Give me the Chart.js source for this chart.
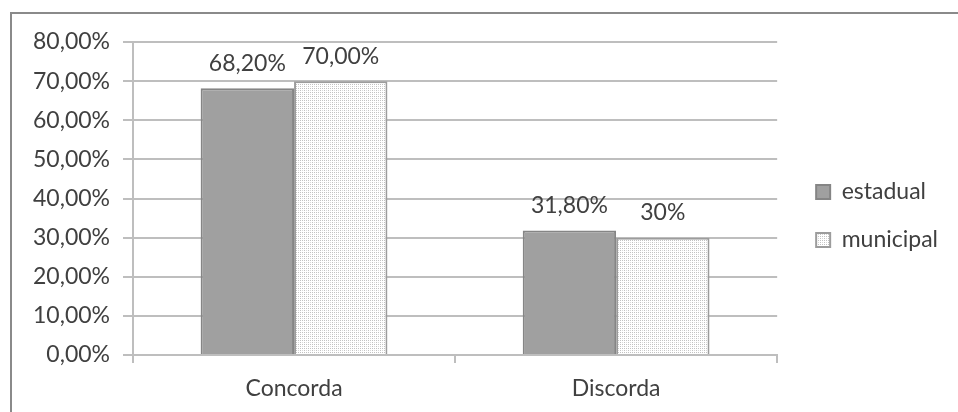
<!DOCTYPE html>
<html>
<head>
<meta charset="utf-8">
<title>Concorda / Discorda</title>
<script src="https://cdn.jsdelivr.net/npm/chart.js@4.4.1/dist/chart.umd.min.js"></script>
<style>
  html, body { margin: 0; padding: 0; background: #fff; overflow: hidden; }
  #frame {
    position: absolute; left: 10px; top: 12px; width: 1000px; height: 500px;
    border-left: 2px solid #8a8a8a; border-top: 2px solid #8a8a8a;
  }
  #chart { position: absolute; left: 0; top: 0; }
</style>
</head>
<body>
<div id="frame"></div>
<canvas id="chart" width="958" height="412"></canvas>
<script>
// Data
const categories = ['Concorda', 'Discorda'];
const estadualValues = [68.2, 31.8];
const municipalValues = [70, 30];
const estadualLabels = ['68,20%', '31,80%'];
const municipalLabels = ['70,00%', '30%'];
const yTickLabels = ['0,00%', '10,00%', '20,00%', '30,00%', '40,00%', '50,00%', '60,00%', '70,00%', '80,00%'];

const textColor = '#404040';
const gridColor = '#bebebe';
const fontFamily = 'Lato, "Open Sans", sans-serif';

// Dotted fill for the municipal bars
function dottedPattern() {
    const tile = document.createElement('canvas');
    tile.width = 4;
    tile.height = 4;
    const t = tile.getContext('2d');
    t.fillStyle = '#ffffff';
    t.fillRect(0, 0, 4, 4);
    t.fillStyle = '#c2c2c2';
    t.fillRect(0, 0, 1, 1);
    t.fillRect(0, 2, 1, 1);
    t.fillRect(2, 0, 1, 1);
    t.fillStyle = '#dadada';
    t.fillRect(2, 2, 1, 1);
    return t.createPattern(tile, 'repeat');
}

// Value text above each bar
const valueLabels = {
    id: 'valueLabels',
    afterDatasetsDraw(chart) {
        const ctx = chart.ctx;
        ctx.save();
        ctx.font = '23px ' + fontFamily;
        ctx.fillStyle = textColor;
        ctx.textAlign = 'center';
        ctx.textBaseline = 'middle';
        chart.data.datasets.forEach((ds, i) => {
            chart.getDatasetMeta(i).data.forEach((bar, j) => {
                ctx.fillText(ds.valueLabels[j], bar.x, bar.y - 25);
            });
        });
        ctx.restore();
    }
};

// Pull the legend's lower edge up so its items sit a bit higher
const legendLift = {
    id: 'legendLift',
    afterLayout(chart) {
        if (chart.legend) {
            chart.legend.bottom -= 22;
            chart.legend.height -= 22;
        }
    }
};

function drawChart() {
    const ctx = document.getElementById('chart').getContext('2d');
    new Chart(ctx, {
        type: 'bar',
        data: {
            labels: categories,
            datasets: [{
                label: 'estadual',
                data: estadualValues,
                valueLabels: estadualLabels,
                backgroundColor: '#a0a0a0',
                borderColor: '#858585',
                borderWidth: 2,
                categoryPercentage: 0.58,
                barPercentage: 1.0
            }, {
                label: 'municipal',
                data: municipalValues,
                valueLabels: municipalLabels,
                backgroundColor: dottedPattern(),
                borderColor: '#9c9c9c',
                borderWidth: 2,
                categoryPercentage: 0.58,
                barPercentage: 1.0
            }]
        },
        options: {
            responsive: false,
            animation: false,
            layout: {
                padding: { top: 42, left: 0, right: 10, bottom: 0 }
            },
            plugins: {
                tooltip: { enabled: false },
                legend: {
                    position: 'right',
                    align: 'center',
                    labels: {
                        boxWidth: 14,
                        boxHeight: 14,
                        padding: 25,
                        color: textColor,
                        font: { family: fontFamily, size: 23 }
                    }
                }
            },
            scales: {
                x: {
                    offset: true,
                    grid: {
                        offset: true,
                        drawOnChartArea: false,
                        drawTicks: true,
                        tickLength: 8,
                        color: gridColor,
                        lineWidth: 2
                    },
                    border: { display: true, color: gridColor, width: 2 },
                    ticks: {
                        color: textColor,
                        padding: 12,
                        font: { family: fontFamily, size: 23 }
                    },
                    afterFit(scale) { scale.height = 57; }
                },
                y: {
                    min: 0,
                    max: 80,
                    ticks: {
                        stepSize: 10,
                        padding: 13,
                        color: textColor,
                        font: { family: fontFamily, size: 23 },
                        callback: (value, index) => yTickLabels[index]
                    },
                    grid: {
                        color: gridColor,
                        lineWidth: 2,
                        tickLength: 10
                    },
                    border: { display: true, color: gridColor, width: 2 },
                    afterFit(scale) { scale.width = 133; }
                },
                // empty spacer between plot and legend
                gap: {
                    type: 'linear',
                    position: 'right',
                    display: true,
                    grid: { display: false },
                    ticks: { display: false },
                    border: { display: false },
                    afterFit(scale) { scale.width = 14; }
                }
            }
        },
        plugins: [valueLabels, legendLift]
    });
}

document.fonts.load('23px Lato').then(drawChart, drawChart);
</script>
</body>
</html>
